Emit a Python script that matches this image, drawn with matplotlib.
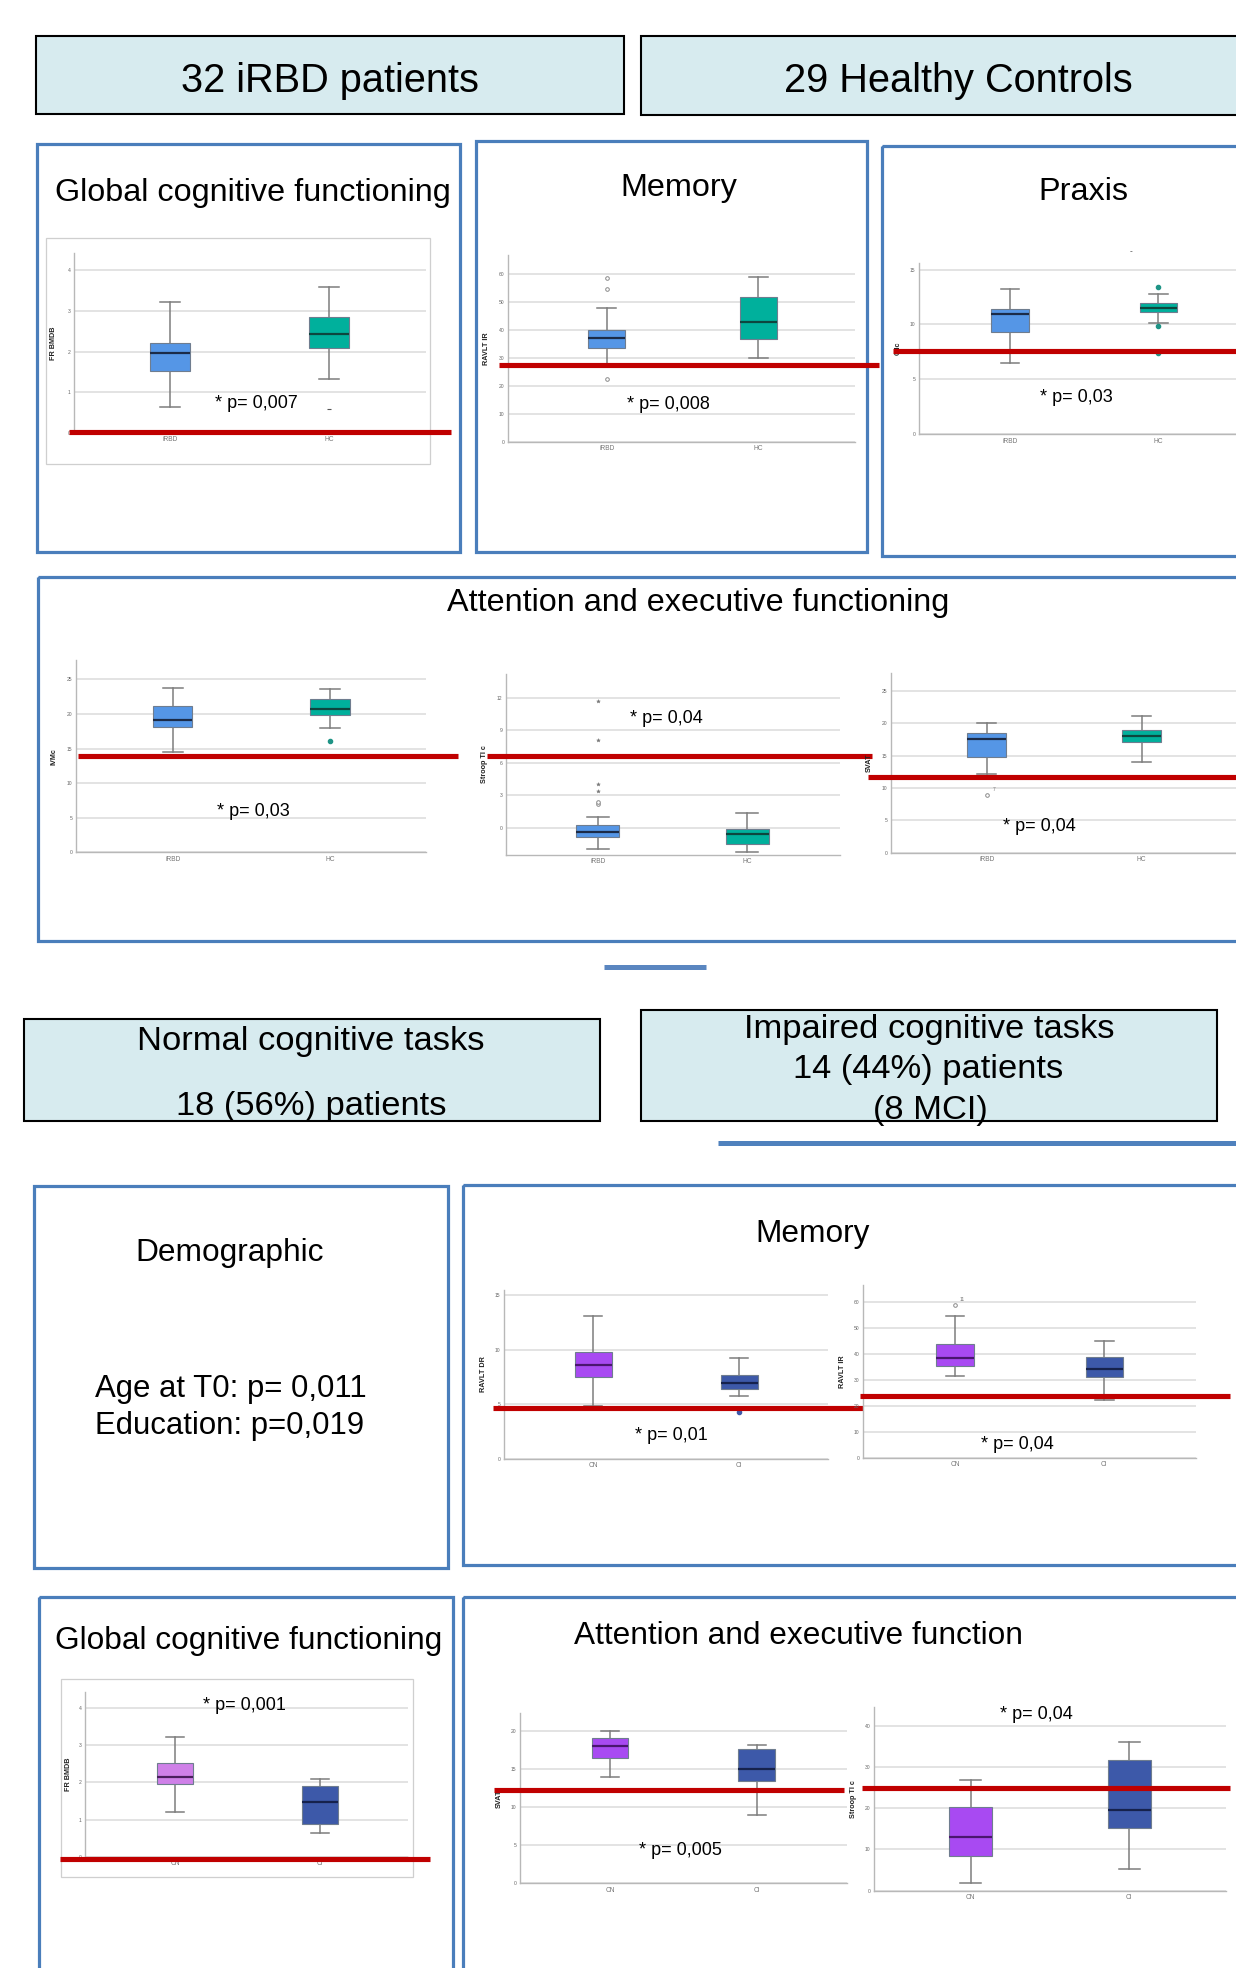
import matplotlib
matplotlib.use("Agg")
import matplotlib.pyplot as plt
from matplotlib.patches import Rectangle
from matplotlib.transforms import blended_transform_factory

plt.rcParams["font.family"] = ["Liberation Sans", "DejaVu Sans"]

W, H = 1236, 1968

# ---------------------------------------------------------------- data
groups_top = ["iRBD", "HC"]
groups_bottom = ["CN", "CI"]

# five-number summaries: whisker low, Q1, median, Q3, whisker high
frbmdb_irbd = [0.65, 1.53, 1.96, 2.21, 3.23]
frbmdb_hc = [1.32, 2.09, 2.43, 2.85, 3.60]
ravlt_ir_irbd = [27.0, 33.7, 37.3, 40.1, 48.0]
ravlt_ir_hc = [30.1, 36.9, 43.0, 52.0, 59.1]
praxis_irbd = [6.5, 9.3, 10.96, 11.4, 13.2]
praxis_hc = [10.1, 11.1, 11.5, 11.96, 12.8]
ivmc_irbd = [14.5, 18.1, 19.1, 21.1, 23.7]
ivmc_hc = [18.0, 19.8, 20.7, 22.1, 23.55]
stroop_irbd = [-2.0, -0.86, -0.43, 0.22, 1.0]
stroop_hc = [-2.27, -1.48, -0.58, -0.12, 1.36]
svat_irbd = [12.1, 14.8, 17.6, 18.5, 20.06]
svat_hc = [14.05, 17.1, 18.05, 19.0, 21.05]

ravlt_dr_cn = [4.9, 7.48, 8.64, 9.77, 13.1]
ravlt_dr_ci = [5.8, 6.41, 6.93, 7.69, 9.22]
ravlt_ir_cn = [31.4, 35.5, 38.4, 43.8, 54.6]
ravlt_ir_ci = [22.4, 31.0, 34.1, 38.9, 45.1]
frbmdb_cn = [1.21, 1.96, 2.14, 2.52, 3.22]
frbmdb_ci = [0.65, 0.89, 1.48, 1.89, 2.09]
svat_cn = [13.97, 16.5, 18.03, 19.0, 20.0]
svat_ci = [8.95, 13.37, 15.0, 17.6, 18.2]
stroop_cn = [1.8, 8.35, 12.96, 20.25, 26.8]
stroop_ci = [5.3, 15.1, 19.6, 31.7, 36.0]

# outlying cases: (group index, values)
frbmdb_hc_out = [0.58]
ravlt_ir_irbd_out = [58.7, 54.6, 22.4]
praxis_hc_out = [13.4, 9.85, 7.36]
ivmc_hc_out = [16.1]
stroop_irbd_extreme = [11.67, 8.12, 4.03, 3.39]
stroop_irbd_out = [2.2, 2.4]
svat_irbd_out = [8.95]
ravlt_dr_ci_out = [4.28]
ravlt_ir_cn_out = [58.7]

# cut-off scores
cutoffs = [0.03, 27.4, 7.6, 13.9, 6.65, 11.7, 4.67, 23.8, -0.05, 12.2, 24.85]

p_labels = ["* p= 0,007", "* p= 0,008", "* p= 0,03", "* p= 0,03", "* p= 0,04",
            "* p= 0,04", "* p= 0,01", "* p= 0,04", "* p= 0,001", "* p= 0,005",
            "* p= 0,04"]

# ---------------------------------------------------------------- colours
C_IRBD, C_HC = "#5596e6", "#00b09c"
C_CN, C_CN_LIGHT, C_CI = "#a84af2", "#cf80e8", "#3d59a9"
RED = "#c00000"
PANEL = "#4a7ebb"
HEADER_FILL = "#d7ebef"

fig = plt.figure(figsize=(W / 100, H / 100), dpi=100)
bg = fig.add_axes([0, 0, 1, 1], zorder=0)
bg.set_xlim(0, W)
bg.set_ylim(H, 0)
bg.axis("off")
ov = fig.add_axes([0, 0, 1, 1], zorder=20)
ov.set_xlim(0, W)
ov.set_ylim(H, 0)
ov.axis("off")


def rect(x0, y0, x1, y1, ec, lw, fc=None):
    bg.add_patch(Rectangle((x0, y0), x1 - x0, y1 - y0, facecolor=fc if fc else "none",
                           edgecolor=ec, lw=lw, fill=fc is not None))


# header boxes
for (x0, y0, x1, y1) in [(36, 36, 624, 114), (641, 36, 1245, 115),
                         (24, 1019, 600, 1121), (641, 1010, 1217, 1121)]:
    rect(x0, y0, x1, y1, "black", 1.5, HEADER_FILL)

# blue panel frames
for (x0, y0, x1, y1) in [(37, 144, 460, 552), (476, 141, 867, 552), (882, 146, 1245, 556),
                         (38, 577, 1245, 941), (34, 1186, 448, 1568), (463, 1185, 1245, 1565),
                         (39, 1597, 453, 1985), (463, 1597, 1245, 1985)]:
    rect(x0, y0, x1, y1, PANEL, 2.3)

# light frames around the two FR BMDB plots
rect(46, 238, 430, 464, "#cfcfcf", 0.9)
rect(61, 1679, 413, 1877, "#cfcfcf", 0.9)

# separator strokes
bg.plot([604, 706], [967, 967], color="#5a86c0", lw=3.6, solid_capstyle="butt")
bg.plot([718, 1240], [1143, 1143], color="#4f81bd", lw=3.6, solid_capstyle="butt")

# ---------------------------------------------------------------- texts
def txt(x, y, s, size, ha="center"):
    ov.text(x, y, s, fontsize=size, ha=ha, va="baseline", color="black")


txt(330, 92, "32 iRBD patients", 28.6)
txt(958, 92, "29 Healthy Controls", 28.6)
txt(253, 201.5, "Global cognitive functioning", 23.3)
txt(679, 196, "Memory", 23.3)
txt(1083, 199.5, "Praxis", 23.3)
txt(698, 611, "Attention and executive functioning", 23.3)
txt(311, 1050, "Normal cognitive tasks", 24.8)
txt(311, 1115, "18 (56%) patients", 24.8)
txt(929, 1038, "Impaired cognitive tasks", 24.8)
txt(928, 1078, "14 (44%) patients", 24.8)
txt(930, 1119, "(8 MCI)", 24.8)
txt(230, 1261, "Demographic", 22.8)
txt(95, 1396.5, "Age at T0: p= 0,011", 22.4, ha="left")
txt(95, 1434, "Education: p=0,019", 22.4, ha="left")
txt(813, 1242, "Memory", 22.8)
txt(248.5, 1649, "Global cognitive functioning", 22.8)
txt(798, 1644, "Attention and executive function", 22.8)
ov.text(1131, 252, "-", fontsize=6, ha="center", va="center", color="#333333")

# ---------------------------------------------------------------- box plots
# layout: axes box (left, top, right, bottom) in pixels, category centres,
# y-limits, ticks, y label and its x, cut-off line extent, p label anchor, box width
layout = [
    dict(px=(74, 253, 426, 433), cats=(170, 329), ylim=(0, 4.43), ticks=[0, 1, 2, 3, 4],
         ylab="FR BMDB", ylx=57, red=(69, 451), p=(256, 408), w=0.25),
    dict(px=(508, 255, 855, 441.7), cats=(606.7, 758.3), ylim=(0, 66.9), ticks=list(range(0, 61, 10)),
         ylab="RAVLT IR", ylx=490, red=(499, 879), p=(668.5, 409), w=0.245),
    dict(px=(919, 263, 1255, 434.3), cats=(1010, 1158.3), ylim=(0, 15.6), ticks=[0, 5, 10, 15],
         ylab="Cdc", ylx=902, red=(893, 1240), p=(1076, 402.3), w=0.25),
    dict(px=(76, 660, 426, 852.3), cats=(172.7, 330), ylim=(0, 27.8), ticks=list(range(0, 26, 5)),
         ylab="IVMc", ylx=58, red=(78, 458), p=(253, 815.7), w=0.25),
    dict(px=(506, 674, 840, 855), cats=(597.7, 747.3), ylim=(-2.52, 14.19), ticks=[0, 3, 6, 9, 12],
         ylab="Stroop TI c", ylx=488, red=(487, 872), p=(666.5, 722.7), w=0.29),
    dict(px=(890.7, 672.7, 1240, 852.7), cats=(986.7, 1141.7), ylim=(0, 27.8), ticks=list(range(0, 26, 5)),
         ylab="SVAT", ylx=873, red=(868, 1240), p=(1039, 831), w=0.25),
    dict(px=(504, 1290, 828.3, 1459), cats=(593.3, 739.3), ylim=(0, 15.5), ticks=[0, 5, 10, 15],
         ylab="RAVLT DR", ylx=487, red=(493, 863), p=(671.7, 1440), w=0.25),
    dict(px=(862.7, 1285, 1196, 1457.7), cats=(955, 1104.3), ylim=(0, 66.5), ticks=list(range(0, 61, 10)),
         ylab="RAVLT IR", ylx=845.7, red=(860, 1230), p=(1017.7, 1449.3), w=0.25),
    dict(px=(85, 1691.7, 408.3, 1857), cats=(175, 320), ylim=(0, 4.43), ticks=[0, 1, 2, 3, 4],
         ylab="FR BMDB", ylx=71.7, red=(60, 430), p=(244.7, 1710), w=0.25),
    dict(px=(520, 1713.3, 846.7, 1883.3), cats=(610, 756.7), ylim=(0, 22.3), ticks=list(range(0, 21, 5)),
         ylab="SVAT", ylx=503, red=(494, 844), p=(680.8, 1855), w=0.25),
    dict(px=(874, 1707.3, 1225.7, 1890.7), cats=(970.7, 1129.3), ylim=(0, 44.5), ticks=list(range(0, 41, 10)),
         ylab="Stroop TI c", ylx=856.7, red=(862, 1230), p=(1036.3, 1719.3), w=0.27),
]

series = [
    (groups_top, frbmdb_irbd, frbmdb_hc, C_IRBD, C_HC),
    (groups_top, ravlt_ir_irbd, ravlt_ir_hc, C_IRBD, C_HC),
    (groups_top, praxis_irbd, praxis_hc, C_IRBD, C_HC),
    (groups_top, ivmc_irbd, ivmc_hc, C_IRBD, C_HC),
    (groups_top, stroop_irbd, stroop_hc, C_IRBD, C_HC),
    (groups_top, svat_irbd, svat_hc, C_IRBD, C_HC),
    (groups_bottom, ravlt_dr_cn, ravlt_dr_ci, C_CN, C_CI),
    (groups_bottom, ravlt_ir_cn, ravlt_ir_ci, C_CN, C_CI),
    (groups_bottom, frbmdb_cn, frbmdb_ci, C_CN_LIGHT, C_CI),
    (groups_bottom, svat_cn, svat_ci, C_CN, C_CI),
    (groups_bottom, stroop_cn, stroop_ci, C_CN, C_CI),
]

MEDIAN = {C_IRBD: "#1b2b48", C_HC: "#0d463e", C_CN: "#4a1670", C_CN_LIGHT: "#4a1e5e", C_CI: "#16224c"}

axes = []
for spec, (groups, s0, s1, c0, c1), cut, plab in zip(layout, series, cutoffs, p_labels):
    l, t, r, b = spec["px"]
    ax = fig.add_axes([l / W, 1 - b / H, (r - l) / W, (b - t) / H], zorder=5)
    ax.patch.set_alpha(0)
    step = spec["cats"][1] - spec["cats"][0]
    ax.set_xlim((l - spec["cats"][0]) / step, (r - spec["cats"][0]) / step)
    ax.set_ylim(*spec["ylim"])
    w = spec["w"]
    stats = [dict(whislo=v[0], q1=v[1], med=v[2], q3=v[3], whishi=v[4], fliers=[]) for v in (s0, s1)]
    parts = ax.bxp(stats, positions=[0, 1], widths=w, capwidths=w / 2, patch_artist=True,
                   showfliers=False, manage_ticks=False,
                   whiskerprops=dict(color="#7d7d7d", lw=1.1),
                   capprops=dict(color="#7d7d7d", lw=1.1))
    for patch, col in zip(parts["boxes"], (c0, c1)):
        patch.set_facecolor(col)
        patch.set_edgecolor("#6f7d8f")
        patch.set_linewidth(0.8)
        patch.set_zorder(3)
    for line, col in zip(parts["medians"], (c0, c1)):
        line.set_color(MEDIAN[col])
        line.set_linewidth(1.6)
        line.set_zorder(4)

    ax.set_yticks(spec["ticks"])
    ax.set_yticklabels([str(v) for v in spec["ticks"]])
    ax.set_xticks([0, 1])
    ax.set_xticklabels(groups)
    ax.tick_params(axis="y", length=0, labelsize=3.6, labelcolor="#666666", pad=2.5)
    ax.tick_params(axis="x", length=0, labelsize=4.8, labelcolor="#777777", pad=2.5)
    ax.grid(axis="y", color="#dedede", lw=1.2)
    ax.set_axisbelow(True)
    for side in ("top", "right"):
        ax.spines[side].set_visible(False)
    for side in ("left", "bottom"):
        ax.spines[side].set_color("#b8b8b8")
        ax.spines[side].set_linewidth(1.0)
    ax.set_ylabel(spec["ylab"], fontsize=5.2, fontweight="bold", color="#222222")
    ax.yaxis.set_label_coords((spec["ylx"] - l) / (r - l), 0.5)

    trans = blended_transform_factory(ax.transAxes, ax.transData)
    rx0, rx1 = spec["red"]
    ax.plot([(rx0 - l) / (r - l), (rx1 - l) / (r - l)], [cut, cut], transform=trans,
            color=RED, lw=3.7, clip_on=False, zorder=10, solid_capstyle="butt")

    px_, py_ = spec["p"]
    txt(px_, py_, plab, 13)
    axes.append(ax)


def open_pts(ax, pos, vals):
    ax.plot([pos] * len(vals), vals, ls="none", marker="o", ms=2.6, mfc="white",
            mec="#8a8a8a", mew=0.7, zorder=5, clip_on=False)


def dot_pts(ax, pos, vals, col):
    ax.plot([pos] * len(vals), vals, ls="none", marker="o", ms=3.0, mfc=col,
            mec=col, zorder=5, clip_on=False)


ax_gcf, ax_mem, ax_prx, ax_ivm, ax_str, ax_svt, ax_dr, ax_irb, ax_gcb, ax_svb, ax_stb = axes
ax_gcf.plot([1] * len(frbmdb_hc_out), frbmdb_hc_out, ls="none", marker="_", ms=2.5,
            color="#555555", mew=0.8, zorder=5)
open_pts(ax_mem, 0, ravlt_ir_irbd_out)
dot_pts(ax_prx, 1, praxis_hc_out, "#1f9486")
dot_pts(ax_ivm, 1, ivmc_hc_out, "#1f9486")
ax_str.plot([0] * len(stroop_irbd_extreme), stroop_irbd_extreme, ls="none", marker="*",
            ms=2.8, color="#777777", mew=0.3, zorder=5)
open_pts(ax_str, 0, stroop_irbd_out)
open_pts(ax_svt, 0, svat_irbd_out)
ax_svt.text(0.04, svat_irbd_out[0] + 0.5, "7", fontsize=3.5, color="#777777", ha="left", va="bottom")
dot_pts(ax_dr, 1, ravlt_dr_ci_out, "#3d59a9")
open_pts(ax_irb, 0, ravlt_ir_cn_out)
ax_irb.text(0.03, ravlt_ir_cn_out[0] + 1.2, "11", fontsize=3.5, color="#777777", ha="left", va="bottom")

fig.savefig("out.png", dpi=100)
